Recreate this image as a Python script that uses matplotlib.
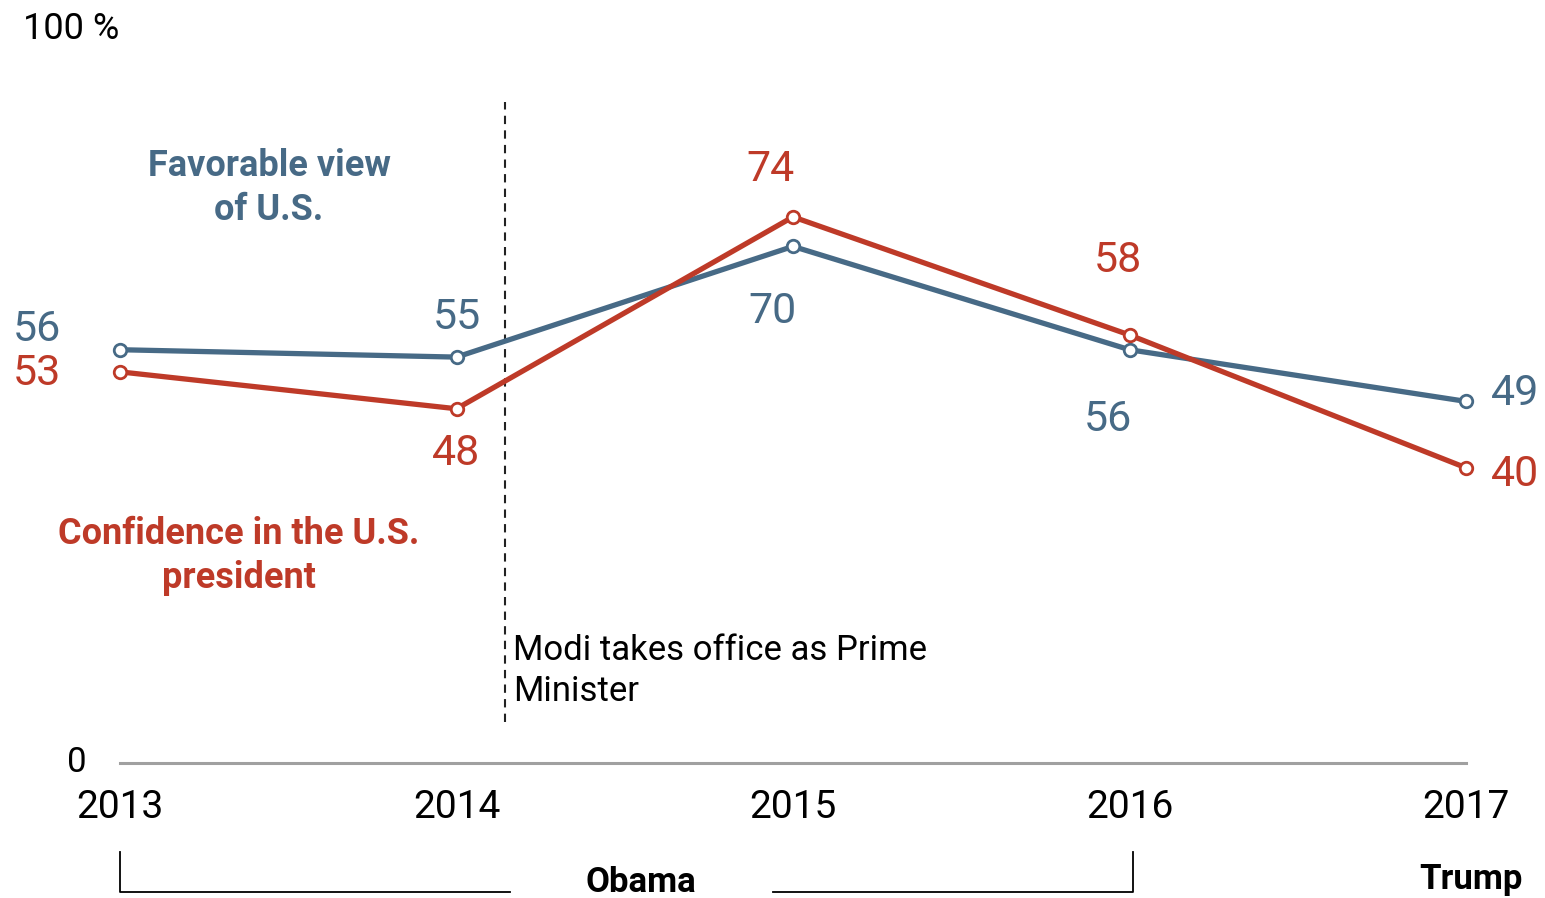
import matplotlib
matplotlib.use("Agg")
import matplotlib.pyplot as plt

plt.rcParams['font.family'] = ['Roboto', 'DejaVu Sans']

years = [2013, 2014, 2015, 2016, 2017]
favorable = [56, 55, 70, 56, 49]
confidence = [53, 48, 74, 58, 40]

# label offsets in pixels (dx, dy) from each point
fav_offsets = [(-83, 20), (0, 40), (-21, -65), (-22, -70), (49, 8)]
conf_offsets = [(-83, -2), (0, -45), (-23, 47), (-12, 74), (49, -7)]

blue = "#476a86"
red = "#be3a28"

W, H = 1545, 898
fig = plt.figure(figsize=(W / 100, H / 100), dpi=100)
ax = fig.add_axes([0, 0, 1, 1])

# pixel geometry of the plot area
x0_px, x1_px = 120, 1466
y0_px, ppu = 763, 7.38
xpu = (x1_px - x0_px) / 4.0
ax.set_xlim(2013 - x0_px / xpu, 2013 + (W - x0_px) / xpu)
ax.set_ylim(-(H - y0_px) / ppu, y0_px / ppu)
ax.axis("off")

# zero baseline
ax.plot([2013, 2017], [0, 0], color="#a0a0a0", lw=2.2, zorder=1)

ax.plot(years, favorable, color=blue, lw=3.8, marker="o", ms=9,
        mfc="white", mec=blue, mew=2, zorder=3)
ax.plot(years, confidence, color=red, lw=3.8, marker="o", ms=9,
        mfc="white", mec=red, mew=2, zorder=4)

for x, v, off in zip(years, favorable, fav_offsets):
    ax.annotate(str(v), (x, v), xytext=off, textcoords="offset pixels",
                ha="center", va="center", fontsize=31, color=blue)
for x, v, off in zip(years, confidence, conf_offsets):
    ax.annotate(str(v), (x, v), xytext=off, textcoords="offset pixels",
                ha="center", va="center", fontsize=31, color=red)

# year labels
for x in years:
    ax.annotate(str(x), (x, 0), xytext=(0, -44), textcoords="offset pixels",
                ha="center", va="center", fontsize=28, color="black")

ax.annotate("0", (2013, 0), xytext=(-43, 0), textcoords="offset pixels",
            ha="center", va="center", fontsize=25, color="black")
ax.annotate("100 %", (2013, 100), xytext=(-49, -4), textcoords="offset pixels",
            ha="center", va="center", fontsize=26, color="black")

# series names
ax.text(2013 + (269 - x0_px) / xpu, (y0_px - 188) / ppu, "Favorable view\nof U.S.",
        ha="center", va="center", fontsize=26, fontweight="bold", color=blue,
        linespacing=1.27)
ax.text(2013 + (239 - x0_px) / xpu, (y0_px - 556) / ppu,
        "Confidence in the U.S.\npresident",
        ha="center", va="center", fontsize=26, fontweight="bold", color=red,
        linespacing=1.27)

# Modi line
modi_x = 2014.144
ax.plot([modi_x, modi_x], [5.5, 89.6], color="#222222", lw=1.5,
        ls=(0, (4, 3)), zorder=2)
ax.text(modi_x + 0.025, (y0_px - 671) / ppu, "Modi takes office as Prime\nMinister",
        ha="left", va="center", fontsize=25, color="black", linespacing=1.33)

# president brackets
yb_top = -(852 - y0_px) / ppu
yb_bot = -(892 - y0_px) / ppu
ax.plot([2013, 2013, 2014.16], [yb_top, yb_bot, yb_bot], color="black", lw=1.3,
        clip_on=False)
ax.plot([2014.94, 2016.01, 2016.01], [yb_bot, yb_bot, yb_top], color="black",
        lw=1.3, clip_on=False)
ax.text(2013 + (641 - x0_px) / xpu, -(883 - y0_px) / ppu, "Obama", ha="center",
        va="center", fontsize=25, fontweight="bold", color="black")
ax.text(2017.015, -(879 - y0_px) / ppu, "Trump", ha="center", va="center",
        fontsize=25, fontweight="bold", color="black")

fig.savefig("out.png", dpi=100)
